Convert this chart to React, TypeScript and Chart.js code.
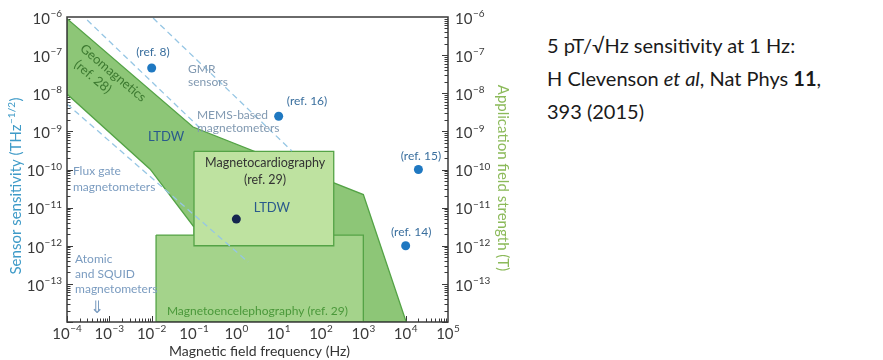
import React, { useEffect, useRef } from 'react';
import { Chart, registerables } from 'chart.js';

Chart.register(...registerables);

// ---------- data (frequency in Hz, sensitivity in T/√Hz) ----------
const xDecades = [-4, -3, -2, -1, 0, 1, 2, 3, 4, 5];
const yDecades = [-6, -7, -8, -9, -10, -11, -12, -13];

// Geomagnetics + LTDW sensitivity region
const regionFreq = [1e-4, 0.095, 1e3, 1.03e4, 0.1, 0.1, 0.0092, 1e-4, 1e-4];
const regionSens = [9e-7, 1.3e-9, 2.2e-11, 1e-14, 1e-14, 3.1e-12, 1.02e-10, 9.5e-9, 9e-7];

// Magnetocardiography box
const mcgFreq = [0.1, 200, 200, 0.1, 0.1];
const mcgSens = [3e-10, 3e-10, 1e-12, 1e-12, 3e-10];

// Magnetoencephalography box
const megFreq = [0.0127, 1e3, 1e3, 0.0127, 0.0127];
const megSens = [1.9e-12, 1.9e-12, 1e-14, 1e-14, 1.9e-12];

// Reference sensors
const refFreq = [0.01, 10, 2e4, 1e4];
const refSens = [4.6e-8, 2.5e-9, 1e-10, 1e-12];

// LTDW result
const ltdwFreq = [1];
const ltdwSens = [5e-12];

// Dashed guide lines
const dashAFreq = [3e-4, 0.16];
const dashASens = [8.3e-7, 1.05e-9];
const dashBFreq = [0.0108, 20.6];
const dashBSens = [9.4e-7, 3.05e-10];
const dashCFreq = [1e-4, 1.9];
const dashCSens = [5.2e-9, 3.75e-13];

// ---------- styling ----------
const FONT = 'Lato, "Open Sans", sans-serif';
const C_REGION = 'rgb(141,198,119)';
const C_MEG = 'rgb(164,211,139)';
const C_MCG = 'rgb(190,226,160)';
const C_EDGE = 'rgb(84,163,70)';
const C_DASH = 'rgb(150,198,228)';
const C_AXIS = '#3a3a3a';

type Ann = {
  lines: string[];
  fx: number; // log10 frequency
  sy: number; // log10 sensitivity
  color: string;
  size: number;
  align: CanvasTextAlign;
  rot?: number;
  lh?: number;
};

const annotations: Ann[] = [
  { lines: ['(ref. 8)'], fx: -1.97, sy: -6.92, color: '#3a6f9e', size: 12, align: 'center' },
  { lines: ['(ref. 16)'], fx: 1.67, sy: -8.2, color: '#3a6f9e', size: 12, align: 'center' },
  { lines: ['(ref. 15)'], fx: 4.36, sy: -9.65, color: '#3a6f9e', size: 12, align: 'center' },
  { lines: ['(ref. 14)'], fx: 4.13, sy: -11.64, color: '#3a6f9e', size: 12, align: 'center' },
  { lines: ['GMR', 'sensors'], fx: -1.14, sy: -7.36, color: '#8199b1', size: 12, align: 'left', lh: 13 },
  { lines: ['MEMS-based', 'magnetometers'], fx: -0.93, sy: -8.57, color: '#8199b1', size: 12, align: 'left', lh: 13 },
  { lines: ['Geomagnetics'], fx: -2.91, sy: -7.47, color: '#3d7a31', size: 13, align: 'center', rot: 40 },
  { lines: ['(ref. 28)'], fx: -3.39, sy: -7.57, color: '#3d7a31', size: 13, align: 'center', rot: 40 },
  { lines: ['LTDW'], fx: -1.66, sy: -9.15, color: '#2a5a8c', size: 13, align: 'center' },
  { lines: ['Magnetocardiography', '(ref. 29)'], fx: 0.68, sy: -9.83, color: '#333333', size: 12.5, align: 'center', lh: 17 },
  { lines: ['LTDW'], fx: 0.84, sy: -11.01, color: '#2a5a8c', size: 13, align: 'center' },
  { lines: ['Flux gate', 'magnetometers'], fx: -3.86, sy: -10.04, color: '#7b9cc0', size: 12, align: 'left', lh: 16 },
  { lines: ['Atomic', 'and SQUID', 'magnetometers'], fx: -3.81, sy: -12.35, color: '#7b9cc0', size: 12, align: 'left', lh: 15 },
  { lines: ['⇓'], fx: -3.29, sy: -13.63, color: '#7b9cc0', size: 17, align: 'center' },
  { lines: ['Magnetoencelephography (ref. 29)'], fx: -1.64, sy: -13.71, color: '#4a983a', size: 12, align: 'left' },
];

const pts = (xs: number[], ys: number[]) => xs.map((x, i) => ({ x, y: ys[i] }));

function drawPower(ctx: CanvasRenderingContext2D, exp: number, x: number, y: number, align: 'left' | 'right' | 'center') {
  const base = '10';
  const e = exp < 0 ? '\u2212' + Math.abs(exp) : String(exp);
  const bf = `15px ${FONT}`;
  const ef = `10px ${FONT}`;
  ctx.font = bf;
  const wb = ctx.measureText(base).width;
  ctx.font = ef;
  const we = ctx.measureText(e).width;
  const total = wb + we + 0.5;
  const x0 = align === 'left' ? x : align === 'right' ? x - total : x - total / 2;
  ctx.textAlign = 'left';
  ctx.textBaseline = 'middle';
  ctx.fillStyle = '#3a3a3a';
  ctx.font = bf;
  ctx.fillText(base, x0, y);
  ctx.font = ef;
  ctx.fillText(e, x0 + wb + 0.5, y - 5);
}

const decorPlugin = {
  id: 'decor',
  beforeDatasetsDraw(chart: any) {
    const { ctx, chartArea: a, scales } = chart;
    const xs = scales.x, ys = scales.y;
    ctx.save();
    ctx.strokeStyle = C_AXIS;
    ctx.lineWidth = 1;
    for (let d = -14; d < -6; d++) {
      for (let m = 1; m <= 9; m++) {
        const v = m * Math.pow(10, d);
        const py = Math.round(ys.getPixelForValue(v)) + 0.5;
        const len = m === 1 ? 6 : 3.5;
        ctx.beginPath();
        ctx.moveTo(a.left, py); ctx.lineTo(a.left + len, py);
        ctx.moveTo(a.right, py); ctx.lineTo(a.right - len, py);
        ctx.stroke();
      }
    }
    for (let d = -4; d < 5; d++) {
      for (let m = 1; m <= 9; m++) {
        const v = m * Math.pow(10, d);
        const px = Math.round(xs.getPixelForValue(v)) + 0.5;
        const len = m === 1 ? 6 : 3.5;
        ctx.beginPath();
        ctx.moveTo(px, a.bottom); ctx.lineTo(px, a.bottom - len);
        ctx.stroke();
      }
    }
    ctx.restore();
  },
  afterDatasetsDraw(chart: any) {
    const { ctx, chartArea: a, scales } = chart;
    const xs = scales.x, ys = scales.y, ys2 = scales.y2;
    ctx.save();
    ctx.strokeStyle = C_AXIS;
    ctx.lineWidth = 1.5;
    ctx.strokeRect(a.left, a.top, a.right - a.left, a.bottom - a.top);

    yDecades.forEach((d) => {
      const py = ys.getPixelForValue(Math.pow(10, d)) + 2;
      drawPower(ctx, d, a.left - 5, py, 'right');
      const py2 = ys2.getPixelForValue(Math.pow(10, d)) + 2;
      drawPower(ctx, d, a.right + 7, py2, 'left');
    });
    xDecades.forEach((d) => {
      const px = xs.getPixelForValue(Math.pow(10, d));
      const base = '10';
      const e = d < 0 ? '\u2212' + Math.abs(d) : String(d);
      ctx.font = `15px ${FONT}`;
      const wb = ctx.measureText(base).width;
      ctx.font = `10px ${FONT}`;
      const we = ctx.measureText(e).width;
      const total = wb + we + 0.5;
      const x0 = px - total / 2;
      ctx.fillStyle = '#3a3a3a';
      ctx.textAlign = 'left';
      ctx.textBaseline = 'middle';
      ctx.font = `15px ${FONT}`;
      ctx.fillText(base, x0, a.bottom + 12);
      ctx.font = `10px ${FONT}`;
      ctx.fillText(e, x0 + wb + 0.5, a.bottom + 7);
    });

    ctx.fillStyle = '#333333';
    ctx.font = `14px ${FONT}`;
    ctx.textAlign = 'center';
    ctx.textBaseline = 'middle';
    ctx.fillText('Magnetic field frequency (Hz)', (xs.getPixelForValue(1) + xs.getPixelForValue(10)) / 2 + 2, a.bottom + 29);

    {
      const t1 = 'Sensor sensitivity (THz';
      const t2 = '\u22121/2';
      const t3 = ')';
      ctx.font = `15px ${FONT}`;
      const w1 = ctx.measureText(t1).width;
      const w3 = ctx.measureText(t3).width;
      ctx.font = `10px ${FONT}`;
      const w2 = ctx.measureText(t2).width;
      const total = w1 + w2 + w3 + 1;
      ctx.save();
      ctx.translate(16, 186);
      ctx.rotate(-Math.PI / 2);
      ctx.fillStyle = '#3f9bc8';
      ctx.textAlign = 'left';
      ctx.textBaseline = 'middle';
      let x = -total / 2;
      ctx.font = `15px ${FONT}`;
      ctx.fillText(t1, x, 0);
      x += w1 + 0.5;
      ctx.font = `10px ${FONT}`;
      ctx.fillText(t2, x, -4);
      x += w2 + 0.5;
      ctx.font = `15px ${FONT}`;
      ctx.fillText(t3, x, 0);
      ctx.restore();
    }
    ctx.save();
    ctx.translate(503, 178);
    ctx.rotate(Math.PI / 2);
    ctx.fillStyle = '#8cba5a';
    ctx.font = `15px ${FONT}`;
    ctx.textAlign = 'center';
    ctx.textBaseline = 'middle';
    ctx.fillText('Application field strength (T)', 0, 0);
    ctx.restore();

    annotations.forEach((an) => {
      const px = xs.getPixelForValue(Math.pow(10, an.fx));
      const py = ys.getPixelForValue(Math.pow(10, an.sy));
      ctx.save();
      ctx.translate(px, py);
      if (an.rot) ctx.rotate((an.rot * Math.PI) / 180);
      ctx.fillStyle = an.color;
      ctx.font = `${an.size}px ${FONT}`;
      ctx.textAlign = an.align;
      ctx.textBaseline = 'middle';
      an.lines.forEach((ln, i) => ctx.fillText(ln, 0, i * (an.lh || 14)));
      ctx.restore();
    });
    ctx.restore();
  },
};

export default function App() {
  const ref = useRef<HTMLCanvasElement>(null);
  useEffect(() => {
    if (!ref.current) return;
    const hidden = { display: false };
    const chart = new Chart(ref.current, {
      type: 'scatter',
      data: {
        datasets: [
          { data: pts(refFreq, refSens), backgroundColor: '#1f78c1', borderWidth: 0, pointRadius: 4.5 } as any,
          { data: pts(ltdwFreq, ltdwSens), backgroundColor: '#15264f', borderWidth: 0, pointRadius: 4.5 } as any,
          { data: pts(dashCFreq, dashCSens), showLine: true, borderColor: C_DASH, borderWidth: 1.3, borderDash: [6, 4], pointRadius: 0, fill: false } as any,
          { data: pts(dashAFreq, dashASens), showLine: true, borderColor: C_DASH, borderWidth: 1.3, borderDash: [6, 4], pointRadius: 0, fill: false } as any,
          { data: pts(dashBFreq, dashBSens), showLine: true, borderColor: C_DASH, borderWidth: 1.3, borderDash: [6, 4], pointRadius: 0, fill: false } as any,
          { data: pts(mcgFreq, mcgSens), showLine: true, borderColor: C_EDGE, borderWidth: 1.3, backgroundColor: C_MCG, pointRadius: 0, fill: 'shape', tension: 0 } as any,
          { data: pts(megFreq, megSens), showLine: true, borderColor: C_EDGE, borderWidth: 1.3, backgroundColor: C_MEG, pointRadius: 0, fill: 'shape', tension: 0 } as any,
          { data: pts(regionFreq, regionSens), showLine: true, borderColor: C_EDGE, borderWidth: 1.3, backgroundColor: C_REGION, pointRadius: 0, fill: 'shape', tension: 0 } as any,
        ],
      },
      options: {
        responsive: false,
        animation: false,
        events: [],
        layout: { padding: { top: 17, left: 0, right: 0, bottom: 0 } },
        plugins: { legend: hidden, tooltip: { enabled: false } },
        scales: {
          x: {
            type: 'logarithmic', min: 1e-4, max: 1e5,
            grid: hidden, border: hidden, ticks: hidden,
            afterFit: (s: any) => { s.height = 38; },
          },
          y: {
            type: 'logarithmic', position: 'left', min: 1e-14, max: 1e-6,
            grid: hidden, border: hidden, ticks: hidden,
            afterFit: (s: any) => { s.width = 67; },
          },
          y2: {
            type: 'logarithmic', position: 'right', min: 1e-14, max: 1e-6,
            grid: hidden, border: hidden, ticks: hidden,
            afterFit: (s: any) => { s.width = 72; },
          },
        },
      } as any,
      plugins: [decorPlugin],
    });
    return () => chart.destroy();
  }, []);

  return (
    <div style={{ position: 'fixed', left: 0, top: 0, width: 883, height: 360, background: '#fff', overflow: 'hidden' }}>
      <canvas ref={ref} width={520} height={360} style={{ position: 'absolute', left: 0, top: 0, width: 520, height: 360 }} />
      <div
        style={{
          position: 'absolute', left: 547, top: 29, font: `20px ${FONT}`, lineHeight: '33px',
          color: '#1a1a1a', whiteSpace: 'nowrap',
        }}
      >
        5 pT/√Hz sensitivity at 1 Hz:
        <br />
        H Clevenson <i>et al</i>, Nat Phys <b>11</b>,
        <br />
        393 (2015)
      </div>
    </div>
  );
}
